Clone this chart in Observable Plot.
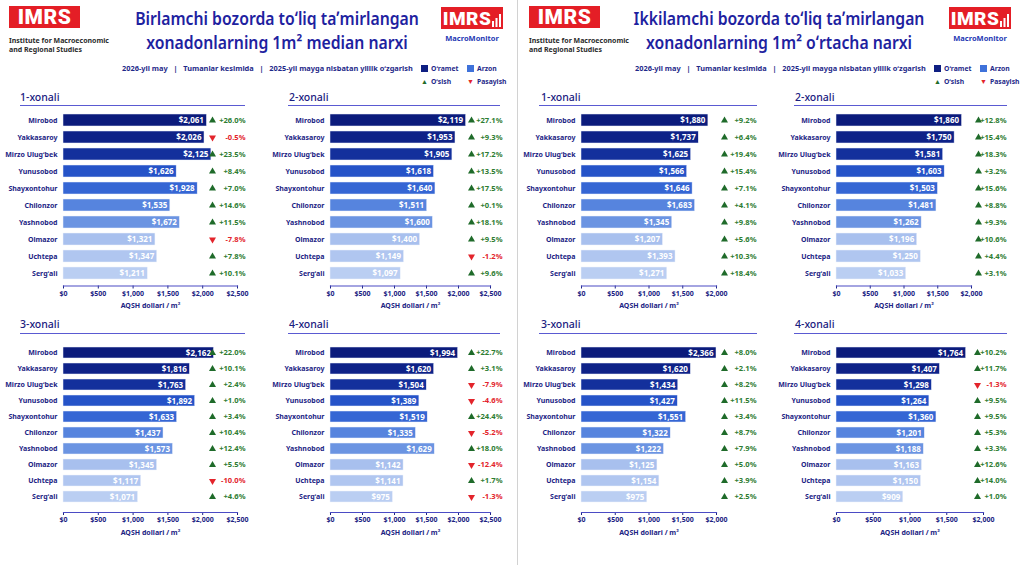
<!DOCTYPE html>
<html>
<head>
<meta charset="utf-8">
<script src="https://cdn.jsdelivr.net/npm/d3@7"></script>
<script src="https://cdn.jsdelivr.net/npm/@observablehq/plot@0.6"></script>
<style>
  body { margin: 0; background: #fff; }
  #page { position: relative; width: 1024px; height: 565px; overflow: hidden; background: #fff;
          font-family: "Noto Sans", "Open Sans", sans-serif; }
  .abs { position: absolute; white-space: nowrap; }
  .logo { background: #e41e26; color: #fff; font-family: Roboto, "Noto Sans", sans-serif; font-weight: 900;
          display: flex; align-items: center; justify-content: center; letter-spacing: 0.5px; }
  .inst { font-size: 7px; font-weight: 700; color: #2b2b2b; line-height: 9px; }
  .title { color: #1e22a0; font-weight: 600; font-size: 17.5px; line-height: 24px; text-align: center;
           transform: scaleX(0.9); transform-origin: center; }
  .mm { font-size: 7.5px; font-weight: 700; color: #2638b4; text-align: center; }
  .sub { font-size: 7.4px; font-weight: 700; color: #1f2a8a; }
  .leg { font-size: 6.8px; font-weight: 700; color: #1f2a8a; display: flex; align-items: center; gap: 3px; }
  .sq { width: 7px; height: 7px; display: inline-block; }
  .tri { font-size: 7px; }
  .ptitle { font-size: 10.5px; font-weight: 500; color: #1a2080; }
  .uline { height: 0; border-top: 1.4px solid #5a5ad2; }
  .sep { position: absolute; left: 517px; top: 0; width: 1px; height: 565px; background: #d2d2d2; }
</style>
</head>
<body>
<div id="page"></div>
<script>
// Districts of Tashkent, listed top to bottom in every chart
const districts = ["Mirobod", "Yakkasaroy", "Mirzo Ulugʻbek", "Yunusobod", "Shayxontohur",
                   "Chilonzor", "Yashnobod", "Olmazor", "Uchtepa", "Sergʻali"];
const roomTypes = ["1-xonali", "2-xonali", "3-xonali", "4-xonali"];

// Primary market: median price per m², USD, and yearly change, %
const primaryPrice1 = [2061, 2026, 2125, 1626, 1928, 1535, 1672, 1321, 1347, 1211];
const primaryChange1 = [26.0, -0.5, 23.5, 8.4, 7.0, 14.6, 11.5, -7.8, 7.8, 10.1];
const primaryPrice2 = [2119, 1953, 1905, 1618, 1640, 1511, 1600, 1400, 1149, 1097];
const primaryChange2 = [27.1, 9.3, 17.2, 13.5, 17.5, 0.1, 18.1, 9.5, -1.2, 9.6];
const primaryPrice3 = [2162, 1816, 1763, 1892, 1633, 1437, 1573, 1345, 1117, 1071];
const primaryChange3 = [22.0, 10.1, 2.4, 1.0, 3.4, 10.4, 12.4, 5.5, -10.0, 4.6];
const primaryPrice4 = [1994, 1620, 1504, 1389, 1519, 1335, 1629, 1142, 1141, 975];
const primaryChange4 = [22.7, 3.1, -7.9, -4.6, 24.4, -5.2, 18.0, -12.4, 1.7, -1.3];

// Secondary market: average price per m², USD, and yearly change, %
const secondaryPrice1 = [1880, 1737, 1625, 1566, 1646, 1683, 1345, 1207, 1393, 1271];
const secondaryChange1 = [9.2, 6.4, 19.4, 15.4, 7.1, 4.1, 9.8, 5.6, 10.3, 18.4];
const secondaryPrice2 = [1860, 1750, 1581, 1603, 1503, 1481, 1262, 1196, 1250, 1033];
const secondaryChange2 = [12.8, 15.4, 18.3, 3.2, 15.6, 8.8, 9.3, 10.6, 4.4, 3.1];
const secondaryPrice3 = [2366, 1620, 1434, 1427, 1551, 1322, 1222, 1125, 1154, 975];
const secondaryChange3 = [8.0, 2.1, 8.2, 11.5, 3.4, 8.7, 7.9, 5.0, 3.9, 2.5];
const secondaryPrice4 = [1764, 1407, 1298, 1264, 1360, 1201, 1188, 1163, 1150, 909];
const secondaryChange4 = [10.2, 11.7, -1.3, 9.5, 9.5, 5.3, 3.3, 12.6, 14.0, 1.0];

// Axis ticks, USD per m²
const primaryTicks = [0, 500, 1000, 1500, 2000, 2500];
const secondaryTicks = [0, 500, 1000, 1500, 2000];

// Header texts
const primaryTitle = ["Birlamchi bozorda toʻliq taʼmirlangan", "xonadonlarning 1m² median narxi"];
const secondaryTitle = ["Ikkilamchi bozorda toʻliq taʼmirlangan", "xonadonlarning 1m² oʻrtacha narxi"];
const subtitleParts = ["2026-yil may", "Tumanlar kesimida", "2025-yil mayga nisbatan yillik oʻzgarish"];
const axisLabel = "AQSH dollari / m²";

// Styling
const NAVY = "#1c2484";
const AXIS = "#4b4bc4";
const GREEN = "#2e7d32";
const GREEN_TRI = "#1f6b2a";
const RED = "#e3242b";
const barColors = ["#0b1b7c", "#0e2288", "#13309c", "#2553c8", "#3566d4",
                   "#5684de", "#6b94e2", "#a8c0ee", "#b0c6f0", "#bacef2"];
const FONT = '"Noto Sans", "Open Sans", sans-serif';

const page = document.getElementById("page");
const fmt = d3.format(",");

function el(cls, left, top, html, extra = {}) {
  const d = document.createElement("div");
  d.className = "abs " + cls;
  d.style.left = left + "px";
  d.style.top = top + "px";
  Object.assign(d.style, extra);
  d.innerHTML = html;
  page.appendChild(d);
  return d;
}

function header(cfg) {
  el("logo", cfg.logoX, 6, "IMRS", {width: "71px", height: "22px", fontSize: "21px"});
  el("inst", cfg.logoX, 36, "Institute for Macroeconomic<br>and Regional Studies");
  el("title", cfg.titleCx - 170, 6, cfg.title.join("<br>"), {width: "340px"});
  el("logo", cfg.mmX, 7,
     'IMRS<svg width="9" height="14" style="margin-left:1px;margin-top:4px"><rect x="0" y="8" width="2" height="6" fill="#fff"/><rect x="3.5" y="5" width="2" height="9" fill="#fff"/><rect x="7" y="1" width="2" height="13" fill="#fff"/></svg>',
     {width: "62px", height: "22px", fontSize: "19px"});
  el("mm", cfg.mmX - 4, 33, "MacroMonitor", {width: "70px"});
  el("sub", cfg.subX, 63, subtitleParts.join("&nbsp;&nbsp;&nbsp;|&nbsp;&nbsp;&nbsp;"));
  const lx = cfg.legX;
  el("leg", lx, 64, '<span class="sq" style="background:#0e1f82"></span>Oʻramet');
  el("leg", lx + 46, 64, '<span class="sq" style="background:#3f72da"></span>Arzon');
  el("leg", lx, 77, '<span class="tri" style="color:' + GREEN_TRI + '">▲</span>Oʻsish');
  el("leg", lx + 46, 77, '<span class="tri" style="color:' + RED + '">▼</span>Pasayish');
}

function rowsOf(prices, changes) {
  return districts.map((district, i) => ({district, price: prices[i], change: changes[i]}));
}

function subplot(cfg) {
  // panel title with rule underneath
  el("ptitle", cfg.titleX, cfg.titleY - 8, cfg.name);
  el("uline", cfg.lineX1, cfg.lineY, "", {width: (cfg.lineX2 - cfg.lineX1) + "px"});

  const rows = cfg.rows;
  const chart = Plot.plot({
    width: cfg.width,
    height: cfg.height,
    marginLeft: cfg.ml,
    marginRight: cfg.mr,
    marginTop: 8,
    marginBottom: cfg.height - 8 - cfg.frameH,
    style: {fontFamily: FONT, fontSize: "7px", fontWeight: 700, color: NAVY, background: "transparent", overflow: "visible"},
    x: {domain: [0, cfg.ticks[cfg.ticks.length - 1]], ticks: cfg.ticks, clamp: true,
        tickFormat: d => "$" + fmt(d), tickSize: 3, tickPadding: 2,
        label: axisLabel, labelAnchor: "center", labelArrow: "none", labelOffset: 22},
    y: {domain: districts, padding: 0.3, label: null, tickSize: 0, tickPadding: 6},
    color: {type: "identity"},
    marks: [
      Plot.barX(rows, {x: "price", y: "district", fill: d => barColors[districts.indexOf(d.district)],
                       stroke: "#eef2fb", strokeWidth: 0.5}),
      Plot.frame({anchor: "bottom", stroke: AXIS, strokeWidth: 1.2}),
      Plot.text(rows, {x: "price", y: "district", text: d => "$" + fmt(d.price),
                       textAnchor: "end", dx: -3, fill: "white", fontSize: 8, fontWeight: 700}),
      Plot.dot(rows, {y: "district", frameAnchor: "right", dx: cfg.triDx, symbol: "triangle",
                      rotate: d => d.change < 0 ? 180 : 0, r: 2.6,
                      fill: d => d.change < 0 ? RED : GREEN_TRI}),
      Plot.text(rows, {y: "district", frameAnchor: "right", dx: cfg.txtDx, textAnchor: "end",
                       text: d => (d.change < 0 ? "-" : "+") + Math.abs(d.change).toFixed(1) + "%",
                       fill: d => d.change < 0 ? RED : GREEN, fontSize: 7.6, fontWeight: 700})
    ]
  });
  chart.style.position = "absolute";
  chart.style.left = cfg.left + "px";
  chart.style.top = cfg.top + "px";
  page.appendChild(chart);
}

// Two dashboards side by side
header({logoX: 9, titleCx: 277, mmX: 441, subX: 122, legX: 421, title: primaryTitle});
header({logoX: 529, titleCx: 779, mmX: 949, subX: 635, legX: 934, title: secondaryTitle});

const sep = document.createElement("div");
sep.className = "sep";
page.appendChild(sep);

// Vertical layout of the two chart rows
const topRow = {top: 100, height: 212, frameH: 177.5, titleY: 98, lineY: 105};
const bottomRow = {top: 330, height: 209, frameH: 174, titleY: 325, lineY: 333};

// Horizontal layouts of the chart columns
const colsPrimary = [
  {left: 5, width: 245, ml: 58, mr: 13, triDx: -25, txtDx: 8, titleX: 20, lineX1: 20, lineX2: 245},
  {left: 270, width: 235, ml: 60, mr: 15, triDx: -19, txtDx: 12, titleX: 289, lineX1: 288, lineX2: 500}
];
const colsSecondary = [
  {left: 522, width: 238, ml: 59, mr: 44, triDx: 8, txtDx: 40, titleX: 541, lineX1: 539, lineX2: 757},
  {left: 777, width: 233, ml: 59, mr: 39, triDx: 7, txtDx: 35, titleX: 795, lineX1: 794, lineX2: 1007}
];

const primaryRows = [rowsOf(primaryPrice1, primaryChange1), rowsOf(primaryPrice2, primaryChange2),
                     rowsOf(primaryPrice3, primaryChange3), rowsOf(primaryPrice4, primaryChange4)];
const secondaryRows = [rowsOf(secondaryPrice1, secondaryChange1), rowsOf(secondaryPrice2, secondaryChange2),
                       rowsOf(secondaryPrice3, secondaryChange3), rowsOf(secondaryPrice4, secondaryChange4)];

roomTypes.forEach((name, i) => {
  const row = i < 2 ? topRow : bottomRow;
  subplot({...row, ...colsPrimary[i % 2], name, rows: primaryRows[i], ticks: primaryTicks});
  let col = colsSecondary[i % 2];
  if (i === 3) col = {...col, mr: 27, triDx: -6, txtDx: 23};
  subplot({...row, ...col, name, rows: secondaryRows[i], ticks: secondaryTicks});
});
</script>
</body>
</html>
